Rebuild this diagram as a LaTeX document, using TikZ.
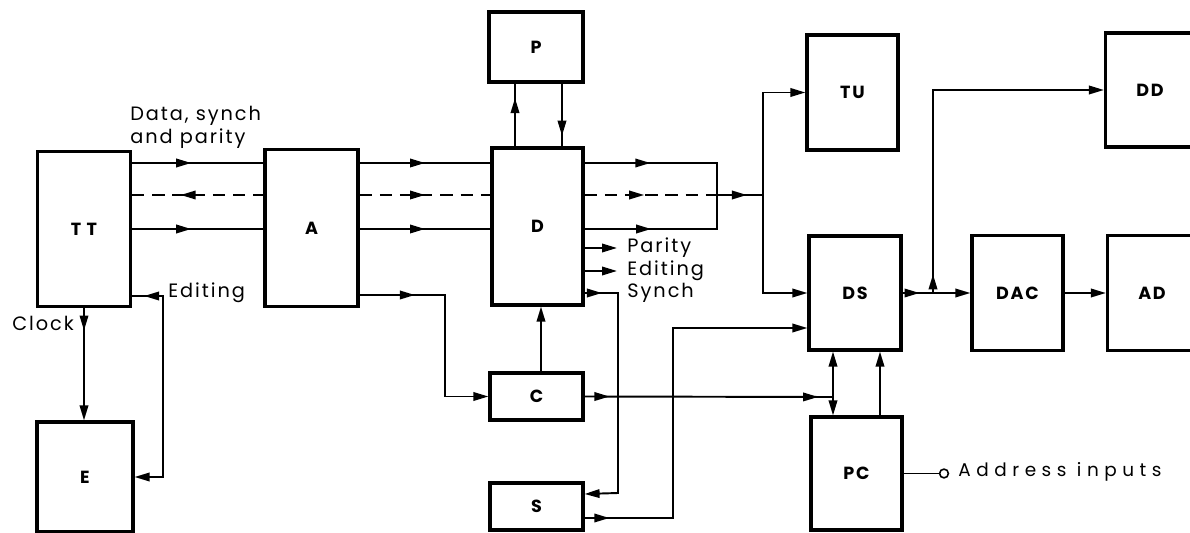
\documentclass[tikz,border=0pt]{standalone}
\usepackage{fontspec}
\setmainfont{Poppins}[LetterSpace=10]
\newfontfamily\widefont{Poppins}[LetterSpace=30]
\usetikzlibrary{arrows.meta, decorations.markings, calc}

\tikzset{
  blk/.style 2 args={draw, line width=1.8pt, minimum width=#1*0.02cm,
    minimum height=#2*0.02cm, inner sep=0pt, font=\fontsize{10}{12}\selectfont\bfseries},
  conn/.style={line width=1.1pt},
  dsh/.style={dash pattern=on 7pt off 4.5pt},
  lbl/.style={font=\fontsize{11}{12}\selectfont, inner sep=0pt},
  midarr/.style={postaction={decorate, decoration={markings,
    mark=at position #1 with {\arrow{>}}}}},
  revarr/.style={postaction={decorate, decoration={markings,
    mark=at position #1 with {\arrowreversed{>}}}}},
}

\begin{document}
\begin{tikzpicture}[x=0.02cm, y=-0.02cm, >={Triangle[length=3mm,width=1.7mm]}]
\useasboundingbox (0,0) rectangle (1190,533);
% blocks
\node[blk={93}{155}] (tt) at (84,229) {T T};
\node[blk={93}{157}] (a) at (311.5,228) {A};
\node[blk={91}{157}] (d) at (537.5,226.5) {D};
\node[blk={94}{70}] (p) at (536,47) {P};
\node[blk={96}{110}] (e) at (85,477) {E};
\node[blk={93}{47}] (c) at (536.5,396.5) {C};
\node[blk={93}{47}] (s) at (536.5,506.5) {S};
\node[blk={91}{115}] (tu) at (852.5,92.5) {TU};
\node[blk={92}{114}] (ds) at (855,293) {DS};
\node[blk={91}{113}] (pc) at (856.5,473.5) {PC};
\node[blk={91}{115}] (dac) at (1017.5,293) {DAC};
\node[blk={89}{115}] (ad) at (1152,293) {AD};
\node[blk={89}{114}] (dd) at (1150,90) {DD};
% levels and bends
\coordinate (l1) at (0,163);
\coordinate (l2) at (0,195);
\coordinate (l3) at (0,229);
\coordinate (bx) at (717,195);
\coordinate (jx) at (763,195);
\coordinate (cj) at (833,397);
\coordinate (ak) at (445,295);
\coordinate (sc) at (618,493);
\coordinate (sv) at (673,328);
\coordinate (ev) at (163,296);
\coordinate (bj) at (933,293);
\coordinate (py) at (617,248);
\coordinate (eo) at (617,271);
\coordinate (sy) at (0,293);
% data, synch and parity bus
\foreach \l in {l1,l3} {
  \draw[conn, midarr=0.45] (tt.east |- \l) -- (a.west |- \l);
  \draw[conn, midarr=0.5] (a.east |- \l) -- (d.west |- \l);
  \draw[conn, midarr=0.4] (d.east |- \l) -| (bx);
}
\draw[conn, dsh, revarr=0.37] (tt.east |- l2) -- (a.west |- l2);
\draw[conn, dsh, midarr=0.5] (a.east |- l2) -- (d.west |- l2);
\draw[conn, dsh, midarr=0.45] (d.east |- l2) -- (bx);
\draw[conn, midarr=0.65] (bx) -- (jx);
\draw[conn, ->] (jx) |- (tu.west);
\draw[conn, ->] (jx) |- (ds.west |- sy);
% P, C around D
\draw[conn, midarr=0.77] ([xshift=-0.45cm]d.north) -- ([xshift=-0.45cm]d.north |- p.south);
\draw[conn, midarr=0.83] ([xshift=0.49cm]d.north |- p.south) -- ([xshift=0.49cm]d.north);
\draw[conn, ->] ([xshift=0.09cm]c.north) -- ([xshift=0.09cm]c.north |- d.south);
\draw[conn, midarr=0.24, ->] (a.east |- ak) -- (ak) |- (c.west);
% D side outputs
\draw[conn, ->] (d.east |- py) -- (py);
\draw[conn, ->] (d.east |- eo) -- (eo);
\draw[conn, midarr=0.065, ->] (d.east |- sy) -| (sc) -- ([yshift=0.25cm]s.east);
\node[lbl, anchor=west] (parity) at (627,248) {Parity};
\node[lbl, anchor=west] (editd) at (627,271) {Editing};
\node[lbl, anchor=west] (synch) at (627,293) {Synch};
\draw[conn, midarr=0.06, ->] ([yshift=-0.23cm]s.east) -| (sv) -- (sv -| ds.west);
% C to DS / PC
\draw[conn, midarr=0.1, midarr=0.94] (c.east) -- (cj);
\draw[conn, ->] (cj) -- (cj |- ds.south);
\draw[conn, ->] (cj) -- (cj |- pc.north);
\draw[conn, ->] ([xshift=0.47cm]pc.north) -- ([xshift=0.47cm]pc.north |- ds.south);
% DS outputs
\draw[conn, midarr=0.25, ->] (ds.east) -- (dac.west);
\draw[conn, midarr=0.05, ->] (bj) |- (dd.west);
\draw[conn, ->] (dac.east) -- (ad.west);
% address inputs
\node[circle, draw, line width=0.9pt, inner sep=0pt, minimum size=5pt] (ai) at (944,473.5) {};
\draw[conn] (pc.east) -- (ai.west);
\node[lbl, anchor=west, font=\widefont\fontsize{10.5}{12}\selectfont] (addr) at (958,472) {Address inputs};
% TT to E
\draw[conn, midarr=0.2, ->] (tt.south) -- (tt.south |- e.north);
\draw[conn, revarr=0.05, ->] (tt.east |- ev) -- (ev) |- (e.east);
\node[lbl, anchor=west] (clock) at (12,323) {Clock};
\node[lbl, anchor=west] (editt) at (168,293) {Editing};
\node[lbl, anchor=west] (dsp) at (130,116) {Data, synch};
\node[lbl, anchor=west] (anp) at (130,139) {and parity};
\end{tikzpicture}
\end{document}
